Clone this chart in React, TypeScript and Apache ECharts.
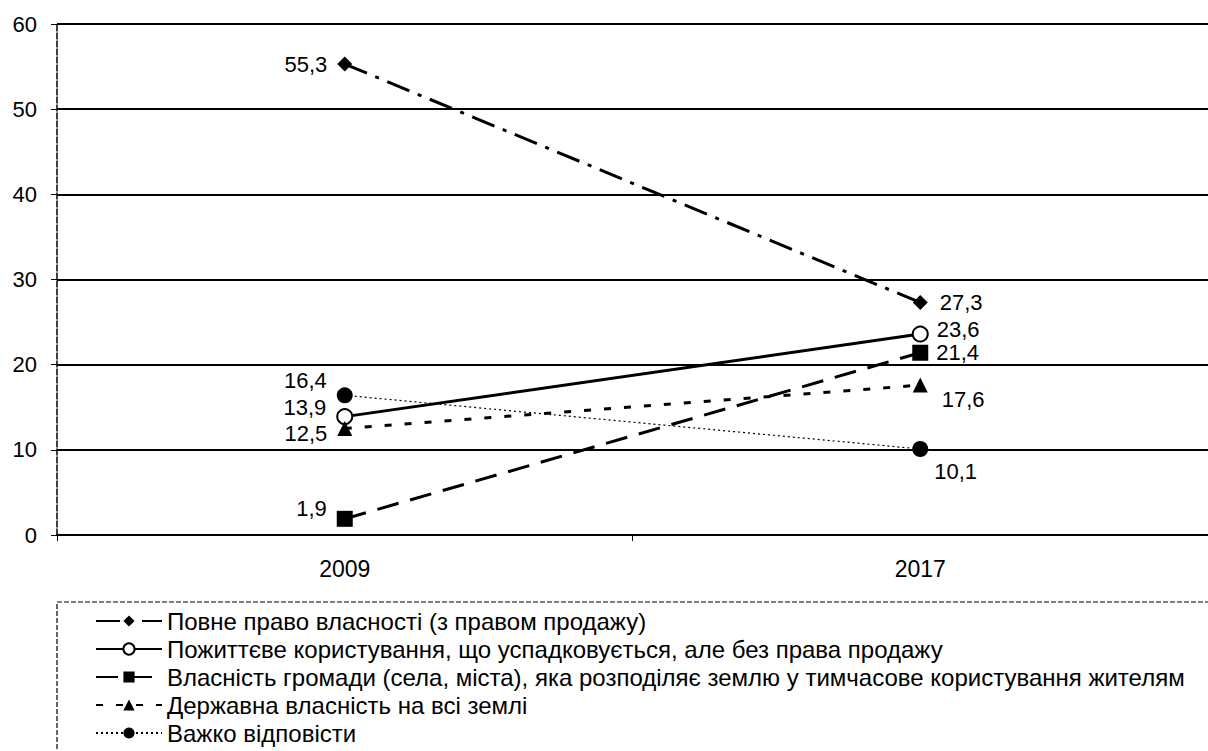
import React, { useEffect, useRef } from "react";
import * as echarts from "echarts";

const categories = ["2009", "2017"];
const yTicks = [0, 10, 20, 30, 40, 50, 60];
const seriesNames = [
  "Повне право власності (з правом продажу)",
  "Пожиттєве користування, що успадковується, але без права продажу",
  "Власність громади (села, міста), яка розподіляє землю у тимчасове користування жителям",
  "Державна власність на всі землі",
  "Важко відповісти",
];
const fullOwnership = [55.3, 27.3];
const lifeUse = [13.9, 23.6];
const communityOwnership = [1.9, 21.4];
const stateOwnership = [12.5, 17.6];
const hardToSay = [16.4, 10.1];

const FONT = "Liberation Sans, Arial, sans-serif";

const fmt = (v: number) => v.toFixed(1).replace(".", ",");

export default function App() {
  const ref = useRef<HTMLDivElement>(null);
  useEffect(() => {
    document.body.style.margin = "0";
    const chart = echarts.init(ref.current!, null, { renderer: "svg" });
    const labelBase = {
      show: true,
      color: "#000",
      fontFamily: FONT,
      fontSize: 22,
      lineHeight: 20,
      formatter: (p: any) => fmt(p.value),
    };
    const mk = (vals: number[], cfgs: any[]) =>
      vals.map((v, i) => ({ value: v, label: { ...labelBase, ...cfgs[i] } }));

    chart.setOption({
      animation: false,
      backgroundColor: "#fff",
      grid: { left: 57, right: -11, top: 24, bottom: 216 },
      xAxis: {
        type: "category",
        data: categories,
        boundaryGap: true,
        axisLine: { lineStyle: { color: "#000", width: 1.5 } },
        axisTick: { show: true, length: 6, lineStyle: { color: "#000" } },
        axisLabel: { color: "#000", fontFamily: FONT, fontSize: 23, margin: 22 },
      },
      yAxis: {
        type: "value",
        min: 0,
        max: 60,
        interval: 10,
        axisLine: { show: true, lineStyle: { color: "#000", width: 1.5, type: [6, 2] } },
        axisTick: { show: true, length: 6, lineStyle: { color: "#000" } },
        axisLabel: {
          color: "#000",
          fontFamily: FONT,
          fontSize: 22,
          margin: 20,
          formatter: (v: number) => (yTicks.includes(v) ? String(v) : ""),
        },
        splitLine: { show: true, lineStyle: { color: "#000", width: 1.8 } },
      },
      legend: {
        orient: "vertical",
        left: 90,
        top: 604,
        height: 220,
        itemWidth: 66,
        itemHeight: 14,
        itemGap: 4,
        textStyle: { color: "#000", fontFamily: FONT, fontSize: 24, lineHeight: 24 },
        data: seriesNames,
      },
      graphic: [
        {
          type: "rect",
          shape: { x: 57, y: 602, width: 1200, height: 200 },
          style: { fill: "none", stroke: "#000", lineWidth: 1.2, lineDash: [5, 2] },
          silent: true,
        },
      ],
      series: [
        {
          name: seriesNames[0],
          type: "line",
          data: mk(fullOwnership, [
            { position: "left", distance: 10 },
            { position: "right", distance: 12 },
          ]),
          symbol: "diamond",
          symbolSize: 15,
          itemStyle: { color: "#000" },
          lineStyle: { color: "#000", width: 3, type: [24, 9, 4, 9] },
        },
        {
          name: seriesNames[1],
          type: "line",
          data: mk(lifeUse, [
            { position: "left", distance: 10, offset: [0, -9] },
            { position: "right", distance: 8, offset: [0, -5] },
          ]),
          symbol: "circle",
          symbolSize: 15,
          itemStyle: { color: "#fff", borderColor: "#000", borderWidth: 2 },
          lineStyle: { color: "#000", width: 3, type: "solid" },
        },
        {
          name: seriesNames[2],
          type: "line",
          data: mk(communityOwnership, [
            { position: "left", distance: 10, offset: [0, -10] },
            { position: "right", distance: 8 },
          ]),
          symbol: "rect",
          symbolSize: 16,
          itemStyle: { color: "#000" },
          lineStyle: { color: "#000", width: 3, type: [22, 12] },
        },
        {
          name: seriesNames[3],
          type: "line",
          data: mk(stateOwnership, [
            { position: "left", distance: 10, offset: [0, 5] },
            { position: "right", distance: 14, offset: [0, 14] },
          ]),
          symbol: "triangle",
          symbolSize: 15,
          itemStyle: { color: "#000" },
          lineStyle: { color: "#000", width: 3, type: [7, 13] },
        },
        {
          name: seriesNames[4],
          type: "line",
          data: mk(hardToSay, [
            { position: "left", distance: 10, offset: [0, -15] },
            { position: "right", distance: 6, offset: [0, 23] },
          ]),
          symbol: "circle",
          symbolSize: 16,
          itemStyle: { color: "#000" },
          lineStyle: { color: "#000", width: 1.2, type: [2, 3] },
        },
      ],
    });
    return () => chart.dispose();
  }, []);
  return <div ref={ref} style={{ width: 1208, height: 751 }} />;
}
